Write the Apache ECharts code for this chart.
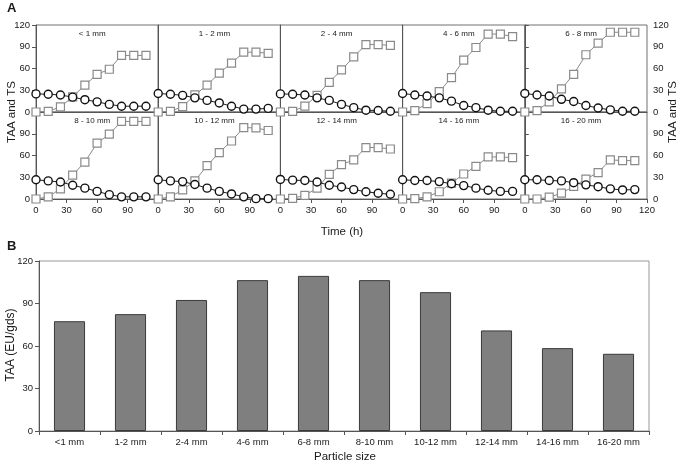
<!DOCTYPE html>
<html><head><meta charset="utf-8">
<script src="https://cdn.jsdelivr.net/npm/echarts@6/dist/echarts.min.js"></script>
<style>html,body{margin:0;padding:0;background:#fff}#c{width:685px;height:463px}</style>
</head><body><div id="c"></div>
<script>
// ---- Data ----
const timePoints = [0, 12, 24, 36, 48, 60, 72, 84, 96, 108];
const panelLabels = ['< 1 mm', '1 - 2 mm', '2 - 4 mm', '4 - 6 mm', '6 - 8 mm',
  '8 - 10 mm', '10 - 12 mm', '12 - 14 mm', '14 - 16 mm', '16 - 20 mm'];
const xTicks = [0, 30, 60, 90, 120];
const yTicks = [0, 30, 60, 90, 120];

const taaLt1   = [0, 1, 7, 21, 37, 52, 59, 78, 78, 78];
const tsLt1    = [25, 24.5, 23.5, 20.5, 17, 14, 10.5, 8, 8, 8];
const taa1to2  = [0, 1, 7.5, 23.5, 37, 53.5, 67.5, 82.5, 82.5, 81];
const ts1to2   = [25.5, 24.5, 23, 19.5, 16, 12.5, 8, 4, 4, 5];
const taa2to4  = [0, 1, 8, 23, 41, 58, 76, 93, 93, 92];
const ts2to4   = [25, 24.5, 23.5, 19.5, 16, 10.5, 6, 2.5, 2, 1];
const taa4to6  = [0, 2, 11.5, 28, 47.5, 71.5, 89, 107.5, 107.5, 104];
const ts4to6   = [25.5, 23.5, 22, 19.5, 15, 9, 6, 2.5, 1, 1];
const taa6to8  = [0, 2, 14, 32, 52, 79, 95, 110, 110, 110];
const ts6to8   = [25.5, 23.5, 22, 17.5, 14.5, 9, 5.5, 3, 1, 1];
const taa8to10 = [0, 3, 14, 33, 51, 77, 89.5, 107, 107, 107];
const ts8to10  = [26.5, 25, 23.5, 19, 15, 10.5, 6, 3, 3, 3];
const taa10to12 = [0, 3, 12.5, 25, 46, 64, 80, 98.5, 98, 94.5];
const ts10to12  = [26.5, 25, 24, 20, 15, 10.5, 7, 3, 0.5, 0.5];
const taa12to14 = [0, 1, 5, 15, 34, 47.5, 54, 71, 71, 69];
const ts12to14  = [27, 26, 25.5, 23.5, 19, 16.5, 13, 10, 8, 6.5];
const taa14to16 = [0, 0.5, 3, 10, 22, 34.5, 45, 58, 58, 57];
const ts14to16  = [26.5, 25.5, 25.5, 24, 21, 18.5, 15, 12, 10.5, 10.5];
const taa16to20 = [0, 0, 2.5, 8, 17.5, 27.5, 36.5, 54, 53, 53];
const ts16to20  = [26.5, 26.5, 25.5, 25, 22.5, 19.5, 17, 14, 12.5, 13];

const taaSeries = [taaLt1, taa1to2, taa2to4, taa4to6, taa6to8, taa8to10, taa10to12, taa12to14, taa14to16, taa16to20];
const tsSeries  = [tsLt1, ts1to2, ts2to4, ts4to6, ts6to8, ts8to10, ts10to12, ts12to14, ts14to16, ts16to20];

const barCategories = ['<1 mm', '1-2 mm', '2-4 mm', '4-6 mm', '6-8 mm', '8-10 mm', '10-12 mm', '12-14 mm', '14-16 mm', '16-20 mm'];
const barValues = [77.5, 82.5, 92.5, 106.5, 109.5, 106.5, 98, 71, 58.5, 54.5];
const barTicks = [0, 30, 60, 90, 120];

// ---- Layout ----
const FONT = '"Liberation Sans", Arial, Helvetica, sans-serif';
const TXT = '#1a1a1a';
const pLeft = 36, pW = 122.2, pH = 87, rowTops = [25, 112];

const chart = echarts.init(document.getElementById('c'), null, {renderer: 'canvas'});
const grids = [], xAxes = [], yAxes = [], series = [], graphics = [];

for (let i = 0; i < 10; i++) {
  const row = Math.floor(i / 5), col = i % 5;
  const left = pLeft + col * pW, top = rowTops[row];
  grids.push({left: left, top: top, width: pW, height: pH, show: true,
    borderColor: '#707070', borderWidth: 1, backgroundColor: 'transparent'});
  const bottomRow = row === 1;
  xAxes.push({type: 'value', gridIndex: i, min: xTicks[0], max: xTicks[xTicks.length - 1],
    interval: xTicks[1] - xTicks[0],
    axisLine: {show: true, onZero: false, lineStyle: {color: '#555', width: 1}},
    axisTick: {show: bottomRow, inside: false, length: 4, lineStyle: {color: '#555'}},
    axisLabel: {show: bottomRow, fontSize: 9.5, color: TXT, fontFamily: FONT, margin: 6,
      showMaxLabel: i === 9, showMinLabel: true},
    splitLine: {show: false}});
  const showY = col === 0 || col === 4;
  yAxes.push({type: 'value', gridIndex: i, min: yTicks[0], max: yTicks[yTicks.length - 1],
    interval: yTicks[1] - yTicks[0], position: col === 4 ? 'right' : 'left',
    axisLine: {show: true, lineStyle: {color: '#555', width: 1}},
    axisTick: {show: showY, inside: false, length: 4, lineStyle: {color: '#555'}},
    axisLabel: {show: showY, fontSize: 9.5, color: TXT, fontFamily: FONT, margin: 6,
      showMaxLabel: !bottomRow},
    splitLine: {show: false}});
  series.push({type: 'line', xAxisIndex: i, yAxisIndex: i, name: 'TAA',
    data: timePoints.map((t, k) => [t, taaSeries[i][k]]),
    symbol: 'rect', symbolSize: 8, lineStyle: {color: '#8a8a8a', width: 1},
    itemStyle: {color: '#fff', borderColor: '#8a8a8a', borderWidth: 1.2},
    emphasis: {disabled: true}, animation: false, z: 3});
  series.push({type: 'line', xAxisIndex: i, yAxisIndex: i, name: 'TS',
    data: timePoints.map((t, k) => [t, tsSeries[i][k]]),
    symbol: 'circle', symbolSize: 8, lineStyle: {color: '#222', width: 1},
    itemStyle: {color: '#fff', borderColor: '#111', borderWidth: 1.4},
    emphasis: {disabled: true}, animation: false, z: 4});
  graphics.push({type: 'text', x: left + pW * 0.46, y: top + 8.5, z: 10,
    style: {text: panelLabels[i], font: '8px ' + FONT, fill: TXT,
      align: 'center', verticalAlign: 'middle', textAlign: 'center', textVerticalAlign: 'middle'}});
}

// Panel B
const bi = 10;
grids.push({left: 39, top: 261, right: 36, height: 170, show: true,
  borderColor: '#999', borderWidth: 1, backgroundColor: 'transparent'});
xAxes.push({type: 'category', gridIndex: bi, data: barCategories, boundaryGap: true,
  axisLine: {show: true, lineStyle: {color: '#555'}},
  axisTick: {show: true, inside: false, length: 4, alignWithLabel: false, lineStyle: {color: '#555'}},
  axisLabel: {fontSize: 9.5, color: TXT, fontFamily: FONT, margin: 6, interval: 0},
  splitLine: {show: false}});
yAxes.push({type: 'value', gridIndex: bi, min: barTicks[0], max: barTicks[barTicks.length - 1],
  interval: barTicks[1] - barTicks[0],
  axisLine: {show: true, lineStyle: {color: '#555'}},
  axisTick: {show: true, inside: false, length: 4, lineStyle: {color: '#555'}},
  axisLabel: {fontSize: 9.5, color: TXT, fontFamily: FONT, margin: 6},
  splitLine: {show: false}});
series.push({type: 'bar', xAxisIndex: bi, yAxisIndex: bi, data: barValues, barWidth: '51%',
  itemStyle: {color: '#7f7f7f', borderColor: '#3a3a3a', borderWidth: 1},
  emphasis: {disabled: true}, animation: false});

function txt(text, x, y, size, opts) {
  opts = opts || {};
  return {type: 'text', x: x, y: y, rotation: opts.rot || 0, z: 10,
    style: {text: text, font: (opts.bold ? 'bold ' : '') + size + 'px ' + FONT, fill: TXT,
      align: opts.align || 'center', verticalAlign: 'middle',
      textAlign: opts.align || 'center', textVerticalAlign: 'middle'}};
}
graphics.push(txt('A', 7, 8, 13, {bold: true, align: 'left'}));
graphics.push(txt('B', 7, 246, 13, {bold: true, align: 'left'}));
graphics.push(txt('TAA and TS', 12, 112, 11.5, {rot: Math.PI / 2}));
graphics.push(txt('TAA and TS', 673, 112, 11.5, {rot: Math.PI / 2}));
graphics.push(txt('Time (h)', 342, 232, 11.5));
graphics.push(txt('TAA (EU/gds)', 11, 345, 12, {rot: Math.PI / 2}));
graphics.push(txt('Particle size', 345, 457, 11.5));

chart.setOption({
  animation: false,
  backgroundColor: '#fff',
  grid: grids, xAxis: xAxes, yAxis: yAxes, series: series, graphic: graphics
});
</script></body></html>
